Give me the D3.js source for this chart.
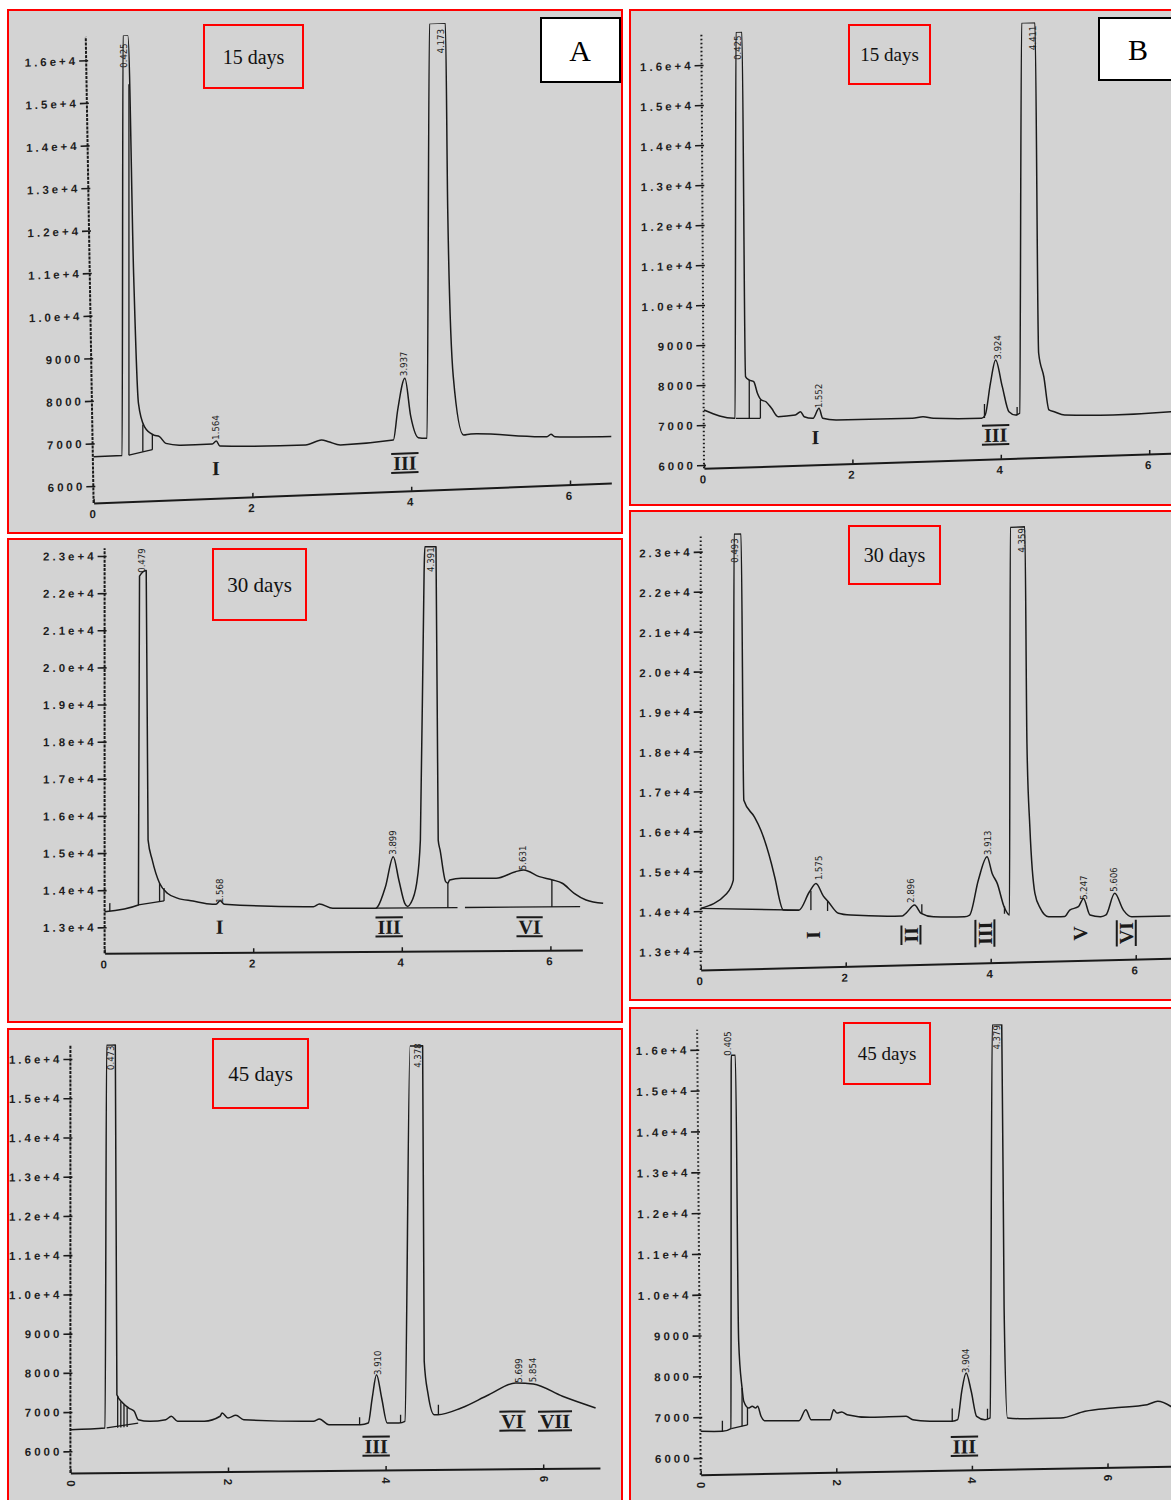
<!DOCTYPE html>
<html>
<head>
<meta charset="utf-8">
<script src="https://cdn.jsdelivr.net/npm/d3@7"></script>
<style>
  body { margin: 0; background: #fff; }
  svg { display: block; }
  .tl { font-family: 'Liberation Sans', Arial, sans-serif; font-weight: bold; font-size: 11.5px; letter-spacing: 3px; fill: #1e1e1e; }
  .pk { font-family: 'DejaVu Sans Condensed', 'Liberation Sans Narrow', 'Liberation Sans', sans-serif; font-size: 9.5px; fill: #1e1e1e; }
  .rn { font-family: 'Liberation Serif', 'Times New Roman', serif; font-weight: bold; font-size: 20px; fill: #1a1a1a; }
  .days { font-family: 'Liberation Serif', 'Times New Roman', serif; fill: #111; }
  .letter { font-family: 'Liberation Serif', 'Times New Roman', serif; font-size: 30px; fill: #000; }
</style>
</head>
<body>
<svg></svg>
<script>
// ---- data: [time (min), signal] ----
const xTicks = [0, 2, 4, 6];
const yTicksLow = [6000, 7000, 8000, 9000, 10000, 11000, 12000, 13000, 14000, 15000, 16000];
const yTicksHigh = [13000, 14000, 15000, 16000, 17000, 18000, 19000, 20000, 21000, 22000, 23000];
const dayLabels = ['15 days', '30 days', '45 days'];

// A, 15 days
const traceA15 = [[0,6688],[0.36,6690],[0.37,16550],[0.43,16550],[0.505,10880],[0.565,7900],[0.64,7350],[0.76,7140],
  [0.83,7100],[0.91,6935],[1.10,6880],[1.495,6878],[1.545,6946],[1.59,6824],[2.67,6770],[2.87,6873],[2.96,6826],
  [3.11,6740],[3.775,6807],[3.83,7509],[3.92,8246],[3.995,7340],[4.09,6840],[4.20,6817],[4.23,16550],[4.43,16550],
  [4.46,12160],[4.53,8240],[4.66,6861],[4.75,6880],[5.71,6746],[5.76,6800],[5.81,6740],[6.52,6690]];
const peaksA15 = [[0.38,15790,'0.425'],[1.53,6975,'1.564'],[3.90,8300,'3.937'],[4.37,15840,'4.173']];
const romansA15 = [[1.54,6310,'I'],[3.92,6260,'III']];
const dropsA15 = [[0.445,6690,15400],[0.62,6760,7400],[0.74,6800,7150]];
const basesA15 = [[[0.445,6690],[0.74,6800]]];

// B, 15 days
const traceB15 = [[0,7375],[0.42,7142],[0.43,16800],[0.51,16800],[0.56,8175],[0.606,8090],[0.67,8043],[0.72,7750],
  [0.77,7580],[0.835,7532],[0.91,7362],[1.0,7150],[1.23,7175],[1.30,7255],[1.35,7127],[1.47,7080],[1.55,7325],
  [1.60,7072],[1.79,7017],[2.81,7000],[2.95,7032],[3.09,6985],[3.74,6945],[3.79,7025],[3.86,7812],[3.93,8392],
  [4.02,7720],[4.11,7087],[4.20,7000],[4.255,7040],[4.28,16800],[4.46,16800],[4.51,8532],[4.58,7935],[4.65,7100],
  [4.72,7052],[4.86,6962],[5.51,6925],[6.29,6960],[6.45,6975]];
const peaksB15 = [[0.445,16100,'0.425'],[1.54,7330,'1.552'],[3.96,8400,'3.924'],[4.43,16110,'4.411']];
const romansB15 = [[1.50,6610,'I'],[3.93,6520,'III']];
const dropsB15 = [[0.61,7125,8090],[0.76,7122,7580],[3.78,6950,7300],[4.22,6990,7200]];
const basesB15 = [[[0.43,7142],[0.76,7122]]];

// A, 30 days
const traceA30 = [[0,13420],[0.455,13596],[0.47,22450],[0.56,22600],[0.585,15345],[0.64,14814],[0.74,14175],
  [0.85,13900],[0.98,13773],[1.19,13690],[1.45,13601],[1.50,13600],[1.555,13690],[1.61,13600],[2.81,13515],
  [2.89,13587],[3.07,13468],[3.65,13461],[3.675,13504],[3.78,14040],[3.885,14849],[3.96,14220],[4.04,13590],
  [4.08,13504],[4.12,13590],[4.20,14126],[4.25,15293],[4.30,22481],[4.31,23190],[4.46,23190],[4.49,15283],
  [4.515,15020],[4.59,14167],[4.62,14127],[4.645,14210],[4.80,14253],[5.27,14248],[5.53,14420],[5.64,14466],
  [5.85,14283],[6.03,14191],[6.16,14100],[6.32,13827],[6.48,13644],[6.71,13552]];
const peaksA30 = [[0.49,22540,'0.479'],[1.54,13630,'1.568'],[3.87,14900,'3.899'],[4.38,22510,'4.391'],[5.62,14460,'5.631']];
const romansA30 = [[1.55,12995,'I'],[3.83,12960,'III'],[5.72,12935,'VI']];
const dropsA30 = [[0.07,13440,13650],[0.74,13690,14175],[0.80,13700,14050],[4.62,13465,14127],[6.02,13465,14191]];
const basesA30 = [[[0.455,13596],[0.80,13700]],[[3.65,13465],[4.75,13465]],[[4.85,13465],[6.40,13465]]];

// B, 30 days
const traceB30 = [[0,14067],[0.36,14425],[0.45,14755],[0.46,23420],[0.556,23420],[0.595,16748],[0.74,16325],
  [0.83,15988],[0.975,15148],[1.02,14813],[1.14,13975],[1.355,13962],[1.50,14415],[1.59,14620],[1.69,14305],
  [1.76,14153],[1.90,13858],[2.07,13805],[2.78,13750],[2.83,13815],[2.95,14017],[3.04,13805],[3.21,13712],
  [3.64,13693],[3.71,13733],[3.83,14603],[3.95,15180],[4.02,14760],[4.09,14508],[4.185,13917],[4.26,13707],
  [4.27,23420],[4.47,23420],[4.50,17988],[4.54,15903],[4.61,14235],[4.685,13855],[4.80,13640],[4.92,13635],
  [5.02,13635],[5.09,13795],[5.21,13873],[5.28,14078],[5.37,13658],[5.52,13608],[5.59,13648],[5.71,14185],
  [5.83,13760],[5.945,13588],[6.48,13583]];
const peaksB30 = [[0.47,22700,'0.493'],[1.63,14700,'1.575'],[2.90,14075,'2.896'],[3.95,15225,'3.913'],
  [4.43,22775,'4.359'],[5.28,14040,'5.247'],[5.70,14225,'5.606']];
const romansB30 = [[1.55,13330,'I'],[2.90,13270,'II'],[3.92,13265,'III'],[5.23,13205,'V'],[5.87,13180,'VI']];
const dropsB30 = [[1.52,13955,14440],[1.75,13920,14170],[3.05,13790,14030],[4.19,13740,13930]];
const basesB30 = [[[0,14067],[1.355,13962]]];

// A, 45 days
const traceA45 = [[0,6551],[0.44,6586],[0.46,16350],[0.57,16350],[0.59,7433],[0.665,7219],[0.74,7089],[0.81,7005],
  [0.86,6790],[1.01,6747],[1.21,6783],[1.28,6867],[1.36,6740],[1.70,6735],[1.90,6857],[1.925,6941],[2.0,6811],
  [2.10,6877],[2.20,6765],[3.085,6706],[3.16,6760],[3.28,6615],[3.68,6607],[3.78,6650],[3.83,7285],[3.885,7879],
  [3.95,7283],[4.02,6645],[4.17,6640],[4.245,6683],[4.31,16250],[4.47,16250],[4.49,8208],[4.54,7357],[4.615,6845],
  [4.665,6844],[4.96,7010],[5.31,7341],[5.65,7635],[5.875,7604],[6.245,7283],[6.665,6977]];
const peaksA45 = [[0.51,15710,'0.473'],[3.90,7870,'3.910'],[4.40,15690,'4.378'],[5.69,7640,'5.699'],[5.87,7650,'5.854']];
const romansA45 = [[3.88,6055,'III'],[5.61,6665,'VI'],[6.15,6655,'VII']];
const dropsA45 = [[0.60,6590,7400],[0.64,6595,7260],[0.68,6600,7180],[0.72,6605,7110],[3.67,6600,6800],[4.19,6640,6850],[4.67,6844,7100]];
const basesA45 = [[[0.46,6586],[0.86,6700]]];

// B, 45 days
const traceB45 = [[0,6654],[0.32,6644],[0.447,6706],[0.45,15850],[0.51,15850],[0.56,8842],[0.61,7698],[0.635,7372],
  [0.71,7203],[0.76,7245],[0.81,7200],[0.84,7244],[0.89,6995],[0.94,6887],[1.45,6870],[1.55,7137],[1.63,6890],
  [1.91,6882],[1.96,7125],[2.01,7041],[2.08,7066],[2.16,6997],[2.52,6921],[3.03,6931],[3.13,6845],[3.38,6800],
  [3.71,6789],[3.79,6826],[3.85,7519],[3.915,7965],[3.99,7514],[4.07,6899],[4.195,6813],[4.27,6853],[4.30,16480],
  [4.44,16480],[4.475,9540],[4.525,6845],[4.81,6818],[5.31,6820],[5.67,6975],[6.08,7044],[6.585,7110],[6.74,7188],[6.95,7040]];
const peaksB45 = [[0.40,15840,'0.405'],[3.91,7965,'3.904'],[4.36,15870,'4.379']];
const romansB45 = [[3.89,6170,'III']];
const dropsB45 = [[0.32,6644,6900],[0.61,6760,7698],[0.69,6790,7203],[3.71,6789,7100],[4.23,6830,7080]];
const basesB45 = [[[0.45,6706],[0.69,6790]]];

// ---- layout of the six scanned panels ----
const panels = [
  {frame:[8,10,614,523], ox:93.6, oy:503, ppm:79.4, cal:[6000,486,16000,60], yTop:16550, xEnd:6.52,
   tilt:-0.0386, lean:0.0168, ticks:yTicksLow, box:[204,25,99,63], day:0, fs:20, letter:'A', letterBox:[541,18,79,64],
   trace:traceA15, peaks:peaksA15, romans:romansA15, drops:dropsA15, bases:basesA15, romanRot:0, xRot:false, dash:'3,1.2'},
  {frame:[630,10,545,495], ox:704, oy:468.3, ppm:74.2, cal:[6000,465,16000,65], yTop:16800, xEnd:6.4,
   tilt:-0.032, lean:0.006, ticks:yTicksLow, box:[849,25,81,59], day:0, fs:19, letter:'B', letterBox:[1099,18,80,62],
   trace:traceB15, peaks:peaksB15, romans:romansB15, drops:dropsB15, bases:basesB15, romanRot:0, xRot:false, dash:'1.6,2.4'},
  {frame:[8,539,614,483], ox:104.6, oy:953.3, ppm:74.3, cal:[13000,927.3,23000,556], yTop:23210, xEnd:6.43,
   tilt:-0.007, lean:0, ticks:yTicksHigh, box:[213,549,93,71], day:1, fs:21,
   trace:traceA30, peaks:peaksA30, romans:romansA30, drops:dropsA30, bases:basesA30, romanRot:0, xRot:false, dash:'3,1.2'},
  {frame:[630,511,545,489], ox:700.7, oy:970, ppm:72.5, cal:[13000,951,23000,551.7], yTop:23440, xEnd:6.5,
   tilt:-0.025, lean:0, ticks:yTicksHigh, box:[849,526,91,58], day:1, fs:20,
   trace:traceB30, peaks:peaksB30, romans:romansB30, drops:dropsB30, bases:basesB30, romanRot:-90, xRot:false, dash:'1.6,2.4'},
  {frame:[8,1029,614,473], ox:70.4, oy:1473, ppm:78.8, cal:[6000,1451.3,16000,1059], yTop:16365, xEnd:6.72,
   tilt:-0.0095, lean:0, ticks:yTicksLow, box:[213,1039,95,69], day:2, fs:21,
   trace:traceA45, peaks:peaksA45, romans:romansA45, drops:dropsA45, bases:basesA45, romanRot:0, xRot:true, dash:'3,1.2'},
  {frame:[630,1008,545,494], ox:700.7, oy:1474.7, ppm:67.8, cal:[6000,1458,16000,1049.7], yTop:16490, xEnd:6.95,
   tilt:-0.018, lean:0.008, ticks:yTicksLow, box:[844,1023,86,61], day:2, fs:19,
   trace:traceB45, peaks:peaksB45, romans:romansB45, drops:dropsB45, bases:basesB45, romanRot:0, xRot:true, dash:'1.6,2.4'}
];

const ink = '#1a1a1a';
const fmtY = v => v >= 10000 ? (v / 10000).toFixed(1) + 'e+4' : String(v);
const deg = r => Math.atan(r) * 180 / Math.PI;

const svg = d3.select('svg')
              .attr('width', 1171)
              .attr('height', 1500);

panels.forEach((p, i) => {
  const [fx, fy, fw, fh] = p.frame;
  svg.append('rect')
     .attr('x', fx).attr('y', fy).attr('width', fw).attr('height', fh)
     .attr('fill', '#d3d3d3').attr('stroke', '#ff0000').attr('stroke-width', 2);

  // the scan is slightly skewed, so every panel gets its own tilt
  const g = svg.append('g')
     .attr('transform', `translate(${p.ox},${p.oy}) skewY(${deg(p.tilt)})`);
  // the printed y axis also leans a little
  const ag = g.append('g').attr('transform', `skewX(${deg(p.lean)})`);

  const x = d3.scaleLinear().domain([0, p.xEnd]).range([0, p.xEnd * p.ppm]);
  const y = d3.scaleLinear().domain([p.cal[0], p.cal[2]]).range([p.cal[1] - p.oy, p.cal[3] - p.oy]);
  const yBottom = y.invert(0);

  // y axis
  const ya = ag.append('g')
     .call(d3.axisLeft(y).tickValues(p.ticks).tickFormat(fmtY).tickSize(7).tickPadding(1));
  ya.select('.domain').remove();
  ya.selectAll('.tick line').attr('x1', 2).attr('stroke', ink).attr('stroke-width', 1.6);
  ya.selectAll('.tick text').attr('class', 'tl');

  ag.append('line')
    .attr('x1', 0).attr('x2', 0)
    .attr('y1', y(yBottom)).attr('y2', y(p.yTop))
    .attr('stroke', ink).attr('stroke-width', 2).attr('stroke-dasharray', p.dash);

  // x axis
  const xa = g.append('g')
     .call(d3.axisBottom(x).tickValues(xTicks).tickFormat(d => d).tickSizeInner(-4).tickSizeOuter(0).tickPadding(7));
  xa.select('.domain').attr('stroke', ink).attr('stroke-width', 2);
  xa.selectAll('.tick line').attr('stroke', ink).attr('stroke-width', 1.5);
  xa.selectAll('.tick text').attr('class', 'tl');
  if (p.xRot) {
    xa.selectAll('.tick text')
      .attr('y', 0).attr('dy', '0.35em')
      .attr('text-anchor', 'middle')
      .attr('transform', 'translate(0,12) rotate(90)');
  }

  // trace
  const clipId = 'clip' + i;
  g.append('clipPath').attr('id', clipId)
   .append('rect')
   .attr('x', -5).attr('y', y(p.yTop))
   .attr('width', x(p.xEnd) + 80).attr('height', -y(p.yTop) + 10);

  const line = d3.line()
     .x(d => x(d[0]))
     .y(d => y(d[1]))
     .curve(d3.curveMonotoneX);

  g.append('path')
   .datum(p.trace)
   .attr('d', line)
   .attr('clip-path', `url(#${clipId})`)
   .attr('fill', 'none').attr('stroke', ink).attr('stroke-width', 1.5)
   .attr('stroke-linejoin', 'round');

  // integrator baselines and drop lines
  g.selectAll('path.base')
   .data(p.bases)
   .join('path')
   .attr('class', 'base')
   .attr('d', d3.line().x(d => x(d[0])).y(d => y(d[1])))
   .attr('fill', 'none').attr('stroke', ink).attr('stroke-width', 1.3);

  g.selectAll('line.drop')
   .data(p.drops)
   .join('line')
   .attr('class', 'drop')
   .attr('x1', d => x(d[0])).attr('x2', d => x(d[0]))
   .attr('y1', d => y(d[1])).attr('y2', d => y(d[2]))
   .attr('stroke', ink).attr('stroke-width', 1.3);

  // retention time labels
  g.selectAll('text.pk')
   .data(p.peaks)
   .join('text')
   .attr('class', 'pk')
   .attr('transform', d => `translate(${x(d[0]) + 3.5},${y(d[1])}) rotate(-90)`)
   .text(d => d[2]);

  // hand-written roman numerals
  const rg = g.selectAll('g.rg')
     .data(p.romans)
     .join('g')
     .attr('class', 'rg')
     .attr('transform', d => `translate(${x(d[0])},${y(d[1])}) rotate(${p.romanRot})`);
  rg.append('text')
    .attr('class', 'rn')
    .attr('text-anchor', 'middle')
    .attr('dy', '0.35em')
    .text(d => d[2]);
  rg.each(function (d) {
    if (d[2].length < 2) return;
    const w = this.querySelector('text').getComputedTextLength() + 4;
    [-9.5, 9.5].forEach(dy => {
      d3.select(this).append('line')
        .attr('x1', -w / 2).attr('x2', w / 2)
        .attr('y1', dy).attr('y2', dy)
        .attr('stroke', ink).attr('stroke-width', 2);
    });
  });

  // "15 days" style box
  const [bx, by, bw, bh] = p.box;
  svg.append('rect')
     .attr('x', bx).attr('y', by).attr('width', bw).attr('height', bh)
     .attr('fill', 'none').attr('stroke', '#ff0000').attr('stroke-width', 2);
  svg.append('text')
     .attr('class', 'days')
     .attr('x', bx + bw / 2).attr('y', by + bh / 2)
     .attr('dy', '0.35em')
     .attr('text-anchor', 'middle')
     .style('font-size', p.fs + 'px')
     .text(dayLabels[p.day]);

  if (p.letter) {
    const [lx, ly, lw, lh] = p.letterBox;
    svg.append('rect')
       .attr('x', lx).attr('y', ly).attr('width', lw).attr('height', lh)
       .attr('fill', '#fff').attr('stroke', '#000').attr('stroke-width', 2);
    svg.append('text')
       .attr('class', 'letter')
       .attr('x', lx + 39).attr('y', ly + lh / 2)
       .attr('dy', '0.35em')
       .attr('text-anchor', 'middle')
       .text(p.letter);
  }
});
</script>
</body>
</html>
